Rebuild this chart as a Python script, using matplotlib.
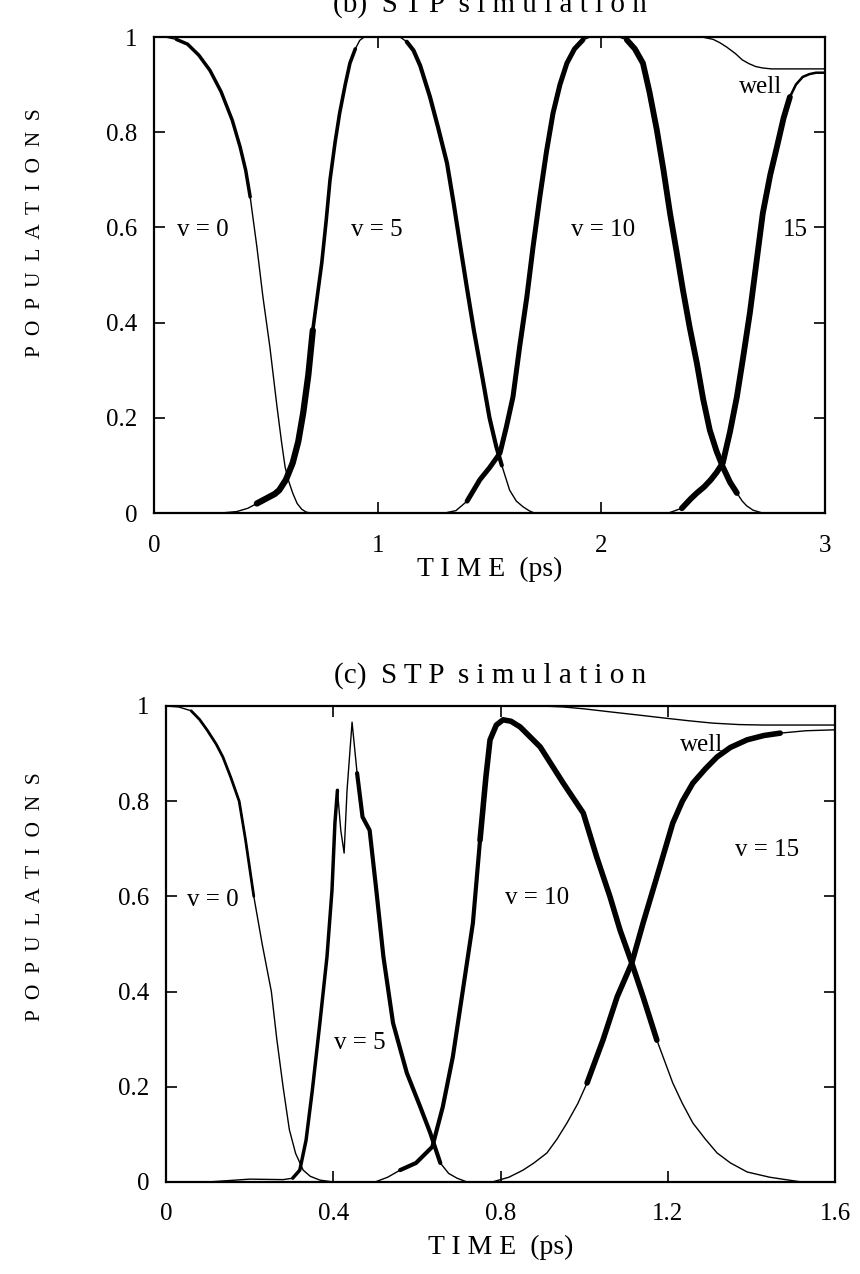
import matplotlib
matplotlib.use("Agg")
import matplotlib.pyplot as plt
import numpy as np

plt.rcParams['font.family'] = ['Liberation Serif', 'DejaVu Serif']

# =============================================================================
# panel (b): 0 - 3 ps
# =============================================================================
t0_b = [0, 0.05, 0.1, 0.15, 0.2, 0.25, 0.3, 0.35, 0.385, 0.41, 0.43, 0.46,
        0.487, 0.518, 0.55, 0.57, 0.586, 0.60, 0.62, 0.64, 0.66, 0.68, 0.70,
        3.0]
p0_b = [1, 1, 0.995, 0.985, 0.962, 0.93, 0.885, 0.825, 0.769, 0.72, 0.664,
        0.559, 0.454, 0.349, 0.223, 0.15, 0.097, 0.07, 0.042, 0.02, 0.008,
        0.002, 0, 0]

t5_b = [0, 0.3, 0.37, 0.42, 0.46, 0.5, 0.54, 0.56, 0.59, 0.62, 0.645, 0.667,
        0.69, 0.71, 0.73, 0.75, 0.77, 0.787, 0.81, 0.83, 0.855, 0.876, 0.90,
        0.92, 0.94, 1.10, 1.13, 1.16, 1.19, 1.21, 1.234, 1.27, 1.31, 1.34,
        1.37, 1.40, 1.43, 1.47, 1.50, 1.53, 1.555, 1.59, 1.62, 1.65, 1.68,
        1.70, 3.0]
p5_b = [0, 0, 0.003, 0.01, 0.02, 0.03, 0.04, 0.048, 0.07, 0.105, 0.15, 0.21,
        0.29, 0.384, 0.455, 0.525, 0.615, 0.70, 0.78, 0.84, 0.90, 0.945, 0.975,
        0.993, 1.0, 1.0, 0.99, 0.972, 0.94, 0.91, 0.874, 0.81, 0.735, 0.65,
        0.559, 0.47, 0.384, 0.28, 0.20, 0.14, 0.10, 0.048, 0.025, 0.013, 0.004,
        0, 0]

t10_b = [0, 1.3, 1.35, 1.40, 1.457, 1.5, 1.547, 1.575, 1.605, 1.635, 1.667,
         1.695, 1.725, 1.755, 1.784, 1.815, 1.846, 1.88, 1.918, 1.95, 2.08,
         2.114, 2.15, 2.186, 2.215, 2.248, 2.278, 2.307, 2.336, 2.365, 2.395,
         2.427, 2.455, 2.485, 2.515, 2.543, 2.575, 2.606, 2.63, 2.65, 2.678,
         2.72, 3.0]
p10_b = [0, 0, 0.005, 0.025, 0.07, 0.095, 0.126, 0.18, 0.244, 0.35, 0.454,
         0.56, 0.664, 0.76, 0.84, 0.90, 0.945, 0.975, 0.994, 1.0, 1.0,
         0.994, 0.975, 0.945, 0.885, 0.805, 0.72, 0.63, 0.55, 0.468, 0.39,
         0.315, 0.24, 0.174, 0.13, 0.097, 0.065, 0.042, 0.025, 0.015, 0.006,
         0, 0]

t15_b = [0, 2.3, 2.36, 2.40, 2.427, 2.46, 2.49, 2.515, 2.543, 2.575, 2.606,
         2.635, 2.664, 2.693, 2.722, 2.755, 2.785, 2.815, 2.843, 2.87, 2.90,
         2.93, 2.96, 3.0]
p15_b = [0, 0, 0.01, 0.03, 0.042, 0.055, 0.07, 0.085, 0.105, 0.17, 0.244,
         0.33, 0.42, 0.525, 0.63, 0.71, 0.769, 0.83, 0.874, 0.90, 0.916,
         0.922, 0.925, 0.925]

tw_b = [0, 2.45, 2.5, 2.53, 2.56, 2.6, 2.63, 2.66, 2.69, 2.72, 2.76, 3.0]
pw_b = [1, 1, 0.995, 0.988, 0.979, 0.965, 0.952, 0.944, 0.938, 0.935, 0.933,
        0.933]

# =============================================================================
# panel (c): 0 - 1.6 ps
# =============================================================================
t0_c = [0, 0.03, 0.06, 0.08, 0.098, 0.12, 0.136, 0.155, 0.175, 0.19, 0.21,
        0.23, 0.252, 0.265, 0.28, 0.295, 0.31, 0.328, 0.345, 0.368, 0.4, 1.6]
p0_c = [1, 0.998, 0.99, 0.972, 0.95, 0.92, 0.893, 0.85, 0.80, 0.72, 0.60,
        0.50, 0.40, 0.30, 0.20, 0.11, 0.06, 0.025, 0.012, 0.004, 0, 0]

t5_c = [0, 0.1, 0.2, 0.28, 0.303, 0.32, 0.335, 0.35, 0.368, 0.385, 0.397,
        0.404, 0.41, 0.418, 0.426, 0.433, 0.445, 0.457, 0.47, 0.487, 0.503,
        0.52, 0.543, 0.576, 0.608, 0.632, 0.656, 0.676, 0.696, 0.72, 1.6]
p5_c = [0, 0, 0.006, 0.005, 0.008, 0.025, 0.088, 0.193, 0.334, 0.473, 0.613,
        0.754, 0.823, 0.739, 0.691, 0.823, 0.966, 0.859, 0.767, 0.739, 0.613,
        0.473, 0.334, 0.229, 0.158, 0.103, 0.04, 0.018, 0.008, 0, 0]

t10_c = [0, 0.5, 0.53, 0.56, 0.598, 0.637, 0.662, 0.686, 0.71, 0.734, 0.751,
         0.765, 0.775, 0.79, 0.806, 0.825, 0.847, 0.895, 0.95, 0.998, 1.03,
         1.062, 1.086, 1.114, 1.141, 1.174, 1.212, 1.235, 1.26, 1.29, 1.318,
         1.35, 1.39, 1.444, 1.52, 1.6]
p10_c = [0, 0, 0.01, 0.025, 0.04, 0.074, 0.158, 0.263, 0.403, 0.544, 0.718,
         0.85, 0.929, 0.96, 0.971, 0.968, 0.956, 0.914, 0.838, 0.775, 0.683,
         0.599, 0.529, 0.46, 0.389, 0.298, 0.208, 0.165, 0.124, 0.09, 0.061,
         0.04, 0.021, 0.01, 0, 0]

t15_c = [0, 0.78, 0.82, 0.854, 0.88, 0.911, 0.935, 0.959, 0.985, 1.007,
         1.045, 1.079, 1.114, 1.141, 1.174, 1.212, 1.235, 1.26, 1.29, 1.318,
         1.35, 1.39, 1.43, 1.469, 1.53, 1.6]
p15_c = [0, 0, 0.01, 0.025, 0.04, 0.061, 0.09, 0.124, 0.165, 0.208,
         0.298, 0.389, 0.46, 0.544, 0.641, 0.754, 0.80, 0.838, 0.868, 0.893,
         0.913, 0.929, 0.938, 0.943, 0.948, 0.95]

tw_c = [0, 0.9, 0.95, 1.0, 1.069, 1.13, 1.189, 1.25, 1.308, 1.37, 1.428, 1.6]
pw_c = [1, 1, 0.998, 0.994, 0.987, 0.981, 0.975, 0.969, 0.964, 0.961, 0.96,
        0.96]


def curve(ax, t, p, thick=()):
    '''thin line, plus thicker pieces where the populations oscillate'''
    t = np.asarray(t)
    p = np.asarray(p)
    ax.plot(t, p, color='k', lw=1.0, solid_capstyle='round')
    for a, b, lw in thick:
        m = (t >= a) & (t <= b)
        ax.plot(t[m], p[m], color='k', lw=lw, solid_capstyle='round',
                solid_joinstyle='round')


def frame(ax, xmax, xticks, xlabels, xpad, xlpad, ylab_x, ylab_y):
    ax.set_xlim(0, xmax)
    ax.set_ylim(0, 1)
    ax.set_xticks(xticks)
    ax.set_xticklabels(xlabels)
    ax.set_yticks([0, 0.2, 0.4, 0.6, 0.8, 1])
    ax.set_yticklabels(['0', '0.2', '0.4', '0.6', '0.8', '1'])
    ax.tick_params(direction='in', length=8, width=1.2, top=True, right=True,
                   labelsize=18)
    ax.tick_params(axis='y', pad=12)
    ax.tick_params(axis='x', pad=xpad)
    for s in ax.spines.values():
        s.set_linewidth(1.6)
    ax.set_ylabel('P  O  P  U  L  A  T  I  O  N  S', fontsize=15.5)
    ax.yaxis.set_label_coords(ylab_x, ylab_y)
    ax.set_xlabel('T I M E  (ps)', fontsize=20, labelpad=xlpad)


fig = plt.figure(figsize=(8.6, 12.74), dpi=100)
W, H = 860.0, 1274.0
lab = dict(fontsize=18, ha='center', va='center')

# =============================================================================
# (b)
# =============================================================================
ax1 = fig.add_axes([154 / W, 1 - 513 / H, 671 / W, 476 / H])
curve(ax1, tw_b, pw_b)
curve(ax1, t0_b, p0_b, [(0.1, 0.43, 2.5)])
curve(ax1, t5_b, p5_b, [(0.46, 0.71, 4.5), (0.71, 0.90, 2.6),
                        (1.13, 1.555, 3.0)])
curve(ax1, t10_b, p10_b, [(1.40, 1.918, 3.6), (2.114, 2.606, 4.2)])
curve(ax1, t15_b, p15_b, [(2.36, 2.843, 4.2), (2.843, 3.0, 1.8)])
frame(ax1, 3, [0, 1, 2, 3], ['0', '1', '2', '3'], 16, 0, -0.162, 0.59)

ax1.text(0.22, 0.595, 'v = 0', **lab)
ax1.text(0.995, 0.595, 'v = 5', **lab)
ax1.text(2.007, 0.595, 'v = 10', **lab)
ax1.text(2.866, 0.595, '15', **lab)
ax1.text(2.71, 0.895, 'well', **lab)

fig.text(0.57, 1 - 12 / H, '(b)  S T P  s i m u l a t i o n', fontsize=21,
         ha='center', va='baseline')

# =============================================================================
# (c)
# =============================================================================
ax2 = fig.add_axes([166 / W, 1 - 1182 / H, 669 / W, 476 / H])
curve(ax2, tw_c, pw_c)
curve(ax2, t0_c, p0_c, [(0.06, 0.21, 2.0)])
curve(ax2, t5_c, p5_c, [(0.303, 0.41, 2.5), (0.457, 0.656, 3.0)])
curve(ax2, t10_c, p10_c, [(0.56, 0.751, 3.0), (0.751, 1.174, 4.0)])
curve(ax2, t15_c, p15_c, [(1.007, 1.469, 4.0)])
frame(ax2, 1.6, [0, 0.4, 0.8, 1.2, 1.6], ['0', '0.4', '0.8', '1.2', '1.6'],
      15, 7, -0.181, 0.60)

ax2.text(0.113, 0.592, 'v = 0', **lab)
ax2.text(0.463, 0.292, 'v = 5', **lab)
ax2.text(0.887, 0.597, 'v = 10', **lab)
ax2.text(1.437, 0.697, 'v = 15', **lab)
ax2.text(1.28, 0.918, 'well', **lab)

fig.text(0.57, 1 - 683 / H, '(c)  S T P  s i m u l a t i o n', fontsize=21,
         ha='center', va='baseline')

fig.savefig("out.png", dpi=100)
